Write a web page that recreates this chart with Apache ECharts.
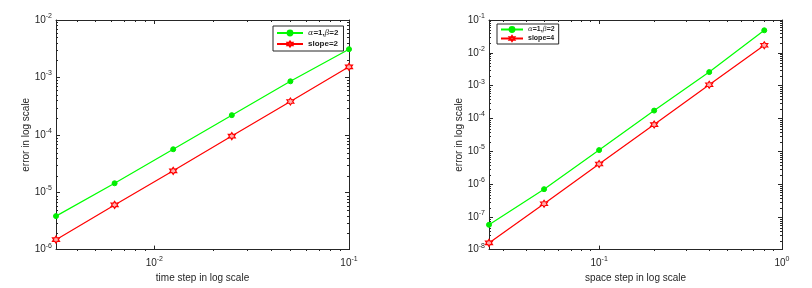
<!DOCTYPE html>
<html>
<head>
<meta charset="utf-8">
<script src="https://cdn.jsdelivr.net/npm/echarts@6/dist/echarts.min.js"></script>
<style>html,body{margin:0;padding:0;background:#fff;}#c{width:812px;height:288px;}</style>
</head>
<body>
<div id="c"></div>
<script>
// ---- data ----
const xLeft = [0.003125, 0.00625, 0.0125, 0.025, 0.05, 0.1];
const greenLeft = [3.83e-6, 1.43e-5, 5.6e-5, 2.2e-4, 8.55e-4, 3.1e-3];
const redLeft = [1.49e-6, 6.0e-6, 2.36e-5, 9.5e-5, 3.8e-4, 1.53e-3];
const xRight = [0.025, 0.05, 0.1, 0.2, 0.4, 0.8];
const greenRight = [5.7e-8, 6.95e-7, 1.08e-5, 1.73e-4, 2.58e-3, 4.85e-2];
const redRight = [1.6e-8, 2.5e-7, 4.07e-6, 6.5e-5, 1.06e-3, 1.7e-2];
const seriesNamesLeft = ['α=1,β=2', 'slope=2'];
const seriesNamesRight = ['α=1,β=2', 'slope=4'];
const xNameLeft = 'time step in log scale';
const xNameRight = 'space step in log scale';
const yName = 'error in log scale';
// tick values
const leftXMajor = [0.01, 0.1];
const leftXMinor = [0.004,0.005,0.006,0.007,0.008,0.009,0.02,0.03,0.04,0.05,0.06,0.07,0.08,0.09];
const leftYMajor = [1e-6, 1e-5, 1e-4, 1e-3, 1e-2];
const leftYMinor = [2e-6,3e-6,4e-6,5e-6,6e-6,7e-6,8e-6,9e-6,2e-5,3e-5,4e-5,5e-5,6e-5,7e-5,8e-5,9e-5,2e-4,3e-4,4e-4,5e-4,6e-4,7e-4,8e-4,9e-4,2e-3,3e-3,4e-3,5e-3,6e-3,7e-3,8e-3,9e-3];
const rightXMajor = [0.1, 1];
const rightXMinor = [0.03,0.04,0.05,0.06,0.07,0.08,0.09,0.2,0.3,0.4,0.5,0.6,0.7,0.8,0.9];
const rightYMajor = [1e-8,1e-7,1e-6,1e-5,1e-4,1e-3,1e-2,1e-1];
const rightYMinor = [2e-8,3e-8,4e-8,5e-8,6e-8,7e-8,8e-8,9e-8,2e-7,3e-7,4e-7,5e-7,6e-7,7e-7,8e-7,9e-7,2e-6,3e-6,4e-6,5e-6,6e-6,7e-6,8e-6,9e-6,2e-5,3e-5,4e-5,5e-5,6e-5,7e-5,8e-5,9e-5,2e-4,3e-4,4e-4,5e-4,6e-4,7e-4,8e-4,9e-4,2e-3,3e-3,4e-3,5e-3,6e-3,7e-3,8e-3,9e-3,2e-2,3e-2,4e-2,5e-2,6e-2,7e-2,8e-2,9e-2];

const AX = '#262626';
const FONT = 'Liberation Sans, Arial, sans-serif';
const HEX = 'path://M0,-10 L2.887,-5 L8.66,-5 L5.774,0 L8.66,5 L2.887,5 L0,10 L-2.887,5 L-8.66,5 L-5.774,0 L-8.66,-5 L-2.887,-5 Z';

const rich = {
  b: {fontSize: 10, color: AX, fontFamily: FONT},
  s: {fontSize: 7, color: AX, fontFamily: FONT, padding: [0, 0, 8, 0]}
};
function powFmt(v) {
  const e = Math.round(Math.log10(v));
  return '{b|10}{s|' + e + '}';
}

const rectL = {left: 56, top: 20, width: 293, height: 231};
const rectR = {left: 489, top: 20, width: 293, height: 231};

const grids = [
  Object.assign({}, rectL), Object.assign({}, rectR),
  Object.assign({}, rectL), Object.assign({}, rectR)
];

function xAxisDef(grid, pos, min, max, ticks, len, labels, name, nameGap, line) {
  return {
    type: 'log', gridIndex: grid, position: pos, min: min, max: max, logBase: 10,
    axisLine: {show: line, lineStyle: {color: AX, width: 1}},
    axisTick: {show: true, inside: true, length: len, customValues: ticks, lineStyle: {color: AX, width: 1}},
    axisLabel: labels ? {show: true, customValues: labels, formatter: powFmt, rich: rich, margin: 6} : {show: false},
    splitLine: {show: false}, minorTick: {show: false},
    name: name || '', nameLocation: 'middle', nameGap: nameGap || 0,
    nameTextStyle: {fontSize: 10, color: AX, fontFamily: FONT}
  };
}
function yAxisDef(grid, pos, min, max, ticks, len, labels, name, nameGap, line) {
  return {
    type: 'log', gridIndex: grid, position: pos, min: min, max: max, logBase: 10,
    axisLine: {show: line, lineStyle: {color: AX, width: 1}},
    axisTick: {show: true, inside: true, length: len, customValues: ticks, lineStyle: {color: AX, width: 1}},
    axisLabel: labels ? {show: true, customValues: labels, formatter: powFmt, rich: rich, margin: 4} : {show: false},
    splitLine: {show: false}, minorTick: {show: false},
    name: name || '', nameLocation: 'middle', nameGap: nameGap || 0,
    nameTextStyle: {fontSize: 10, color: AX, fontFamily: FONT}
  };
}

const lxMin = xLeft[0], lxMax = 0.1, lyMin = 1e-6, lyMax = 1e-2;
const rxMin = xRight[0], rxMax = 1, ryMin = 1e-8, ryMax = 1e-1;

const xAxes = [
  xAxisDef(0, 'bottom', lxMin, lxMax, leftXMajor, 4, leftXMajor, xNameLeft, 19, true),
  xAxisDef(0, 'top', lxMin, lxMax, leftXMajor, 4, null, '', 0, true),
  xAxisDef(1, 'bottom', rxMin, rxMax, rightXMajor, 4, rightXMajor, xNameRight, 19, true),
  xAxisDef(1, 'top', rxMin, rxMax, rightXMajor, 4, null, '', 0, true),
  xAxisDef(2, 'bottom', lxMin, lxMax, leftXMinor, 2, null, '', 0, false),
  xAxisDef(2, 'top', lxMin, lxMax, leftXMinor, 2, null, '', 0, false),
  xAxisDef(3, 'bottom', rxMin, rxMax, rightXMinor, 2, null, '', 0, false),
  xAxisDef(3, 'top', rxMin, rxMax, rightXMinor, 2, null, '', 0, false)
];
const yAxes = [
  yAxisDef(0, 'left', lyMin, lyMax, leftYMajor, 4, leftYMajor, yName, 23, true),
  yAxisDef(0, 'right', lyMin, lyMax, leftYMajor, 4, null, '', 0, true),
  yAxisDef(1, 'left', ryMin, ryMax, rightYMajor, 4, rightYMajor, yName, 22, true),
  yAxisDef(1, 'right', ryMin, ryMax, rightYMajor, 4, null, '', 0, true),
  yAxisDef(2, 'left', lyMin, lyMax, leftYMinor, 2, null, '', 0, false),
  yAxisDef(2, 'right', lyMin, lyMax, leftYMinor, 2, null, '', 0, false),
  yAxisDef(3, 'left', ryMin, ryMax, rightYMinor, 2, null, '', 0, false),
  yAxisDef(3, 'right', ryMin, ryMax, rightYMinor, 2, null, '', 0, false)
];

function pairs(xs, ys) { return xs.map((x, i) => [x, ys[i]]); }

function greenSeries(name, xi, yi, xs, ys) {
  return {
    type: 'line', name: name, xAxisIndex: xi, yAxisIndex: yi, data: pairs(xs, ys),
    clip: false, symbol: 'circle', symbolSize: 5, showSymbol: true,
    lineStyle: {color: '#00ff00', width: 1.2},
    itemStyle: {color: '#00ee00', borderColor: '#00ee00', borderWidth: 1},
    emphasis: {disabled: true}, animation: false, z: 3
  };
}
function redSeries(name, xi, yi, xs, ys) {
  return {
    type: 'line', name: name, xAxisIndex: xi, yAxisIndex: yi, data: pairs(xs, ys),
    clip: false, symbol: HEX, symbolSize: 7, showSymbol: true,
    lineStyle: {color: '#ff0000', width: 1.2},
    itemStyle: {color: '#ffb0b0', borderColor: '#ff0000', borderWidth: 1.2},
    emphasis: {disabled: true}, animation: false, z: 3
  };
}

const legendRich = {
  g: {fontFamily: 'DejaVu Serif, serif', fontStyle: 'italic', fontWeight: 'normal', color: '#333'}
};
function legendFmt(n) {
  return n.replace('α', '{g|α}').replace('β', '{g|β}');
}
function legendDef(names, left, top, fs, w, gap, pad) {
  const r = {g: Object.assign({fontSize: fs}, legendRich.g)};
  return {
    data: names, left: left, top: top, orient: 'vertical',
    backgroundColor: '#fff', borderColor: AX, borderWidth: 1, borderRadius: 0,
    padding: pad, itemGap: gap, itemWidth: w, itemHeight: 6,
    selectedMode: false,
    formatter: legendFmt,
    textStyle: {fontSize: fs, fontWeight: 'bold', color: '#222', fontFamily: FONT, rich: r}
  };
}

const option = {
  animation: false,
  backgroundColor: '#fff',
  grid: grids,
  xAxis: xAxes,
  yAxis: yAxes,
  legend: [
    legendDef(seriesNamesLeft, 273, 26, 8, 26, 3, [3, 5, 3, 3]),
    legendDef(seriesNamesRight, 497, 24, 7, 22, 2, [2, 4, 2, 3])
  ],
  series: [
    greenSeries(seriesNamesLeft[0], 0, 0, xLeft, greenLeft),
    redSeries(seriesNamesLeft[1], 0, 0, xLeft, redLeft),
    greenSeries(seriesNamesRight[0], 2, 2, xRight, greenRight),
    redSeries(seriesNamesRight[1], 2, 2, xRight, redRight)
  ]
};

const chart = echarts.init(document.getElementById('c'), null, {renderer: 'canvas'});
chart.setOption(option);
</script>
</body>
</html>
